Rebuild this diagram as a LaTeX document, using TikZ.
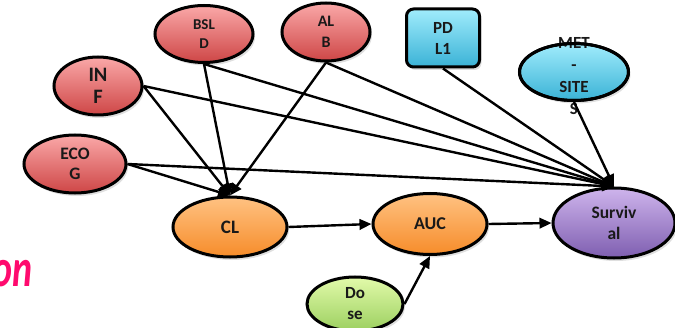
\documentclass[tikz,border=0pt]{standalone}
\usepackage{fontspec}
\setmainfont{Carlito}
\usetikzlibrary{shapes.geometric,shadows,arrows.meta}

\definecolor{redT}{RGB}{250,168,168}
\definecolor{redB}{RGB}{206,70,70}
\definecolor{blueT}{RGB}{160,236,252}
\definecolor{blueB}{RGB}{58,178,214}
\definecolor{orangeT}{RGB}{255,194,130}
\definecolor{orangeB}{RGB}{246,140,42}
\definecolor{purpleT}{RGB}{206,180,236}
\definecolor{purpleB}{RGB}{126,94,176}
\definecolor{greenT}{RGB}{226,250,170}
\definecolor{greenB}{RGB}{156,208,96}
\definecolor{hotpink}{RGB}{255,10,110}
\definecolor{ink}{RGB}{25,25,25}

\begin{document}
\begin{tikzpicture}[x=1pt,y=1pt,
  blob/.style={ellipse, draw=black, line width=3pt, inner sep=0pt, align=center,
    text=ink, drop shadow={opacity=0.25, shadow xshift=2pt, shadow yshift=-3pt}},
  boxnode/.style={rectangle, rounded corners=7pt, draw=black, line width=3pt,
    inner sep=0pt, align=center, text=ink,
    drop shadow={opacity=0.25, shadow xshift=2pt, shadow yshift=-3pt}},
  redfill/.style={top color=redT, bottom color=redB},
  bluefill/.style={top color=blueT, bottom color=blueB},
  orangefill/.style={top color=orangeT, bottom color=orangeB},
  purplefill/.style={top color=purpleT, bottom color=purpleB},
  greenfill/.style={top color=greenT, bottom color=greenB},
  fs/.style 2 args={font=\fontsize{#1}{#2}\selectfont\bfseries},
  link/.style={line width=2.4pt, draw=black, -{Triangle[length=12pt,width=10.5pt]}}
]
\useasboundingbox (0,0) rectangle (675,327);

% covariate nodes
\node[blob, redfill, fs={15}{19}, minimum width=98pt, minimum height=57pt] (bsld) at (204,293) {BSL\\D};
\node[blob, redfill, fs={16}{21}, minimum width=88pt, minimum height=58pt] (alb) at (326,295) {AL\\B};
\node[blob, redfill, fs={20.5}{22}, minimum width=88pt, minimum height=58pt] (inf) at (98,241) {IN\\F};
\node[blob, redfill, fs={17.5}{20}, minimum width=102pt, minimum height=58pt] (ecog) at (75,163) {ECO\\G};
\node[boxnode, bluefill, fs={17}{21}, minimum width=73pt, minimum height=58pt] (pdl1) at (443,289) {PD\\L1};
\node[blob, bluefill, minimum width=109pt, minimum height=57pt] (met) at (574,255) {};
\node[fs={17}{22}, align=center, text=ink, inner sep=0pt] (met-label) at (574,251) {MET\\-\\SITE\\S};
\node[ellipse, draw=black, line width=3pt, inner sep=0pt, minimum width=109pt, minimum height=57pt] (met-rim) at (met) {};

% pharmacokinetic chain and outcome
\node[blob, orangefill, fs={19}{22}, minimum width=114pt, minimum height=60pt] (cl) at (230,100) {CL};
\node[blob, orangefill, fs={18}{22}, minimum width=114pt, minimum height=61pt] (auc) at (430,103) {AUC};
\node[blob, purplefill, fs={17.5}{21}, minimum width=122pt, minimum height=70pt] (surv) at (614,104) {Surviv\\al};
\node[blob, greenfill, fs={17}{21}, minimum width=96pt, minimum height=54pt] (dose) at (355,23) {Do\\se};

% partially visible heading
\node[anchor=base east, inner sep=0pt, text=hotpink,
  font=\fontsize{38}{38}\selectfont\bfseries\itshape] (heading) at (33,41) {\scalebox{1}[1.4]{on}};

% covariate effects on clearance
\draw[link] (inf.east) -- (cl.north);
\draw[link] (bsld.south) -- (cl.north);
\draw[link] (alb.south) -- (cl.north);
\draw[link] (ecog.east) -- (cl.north);

% covariate effects on survival
\draw[link] (inf.east) -- (surv.north);
\draw[link] (bsld.south) -- (surv.north);
\draw[link] (alb.south) -- (surv.north);
\draw[link] (ecog.east) -- (surv.north);
\draw[link] (pdl1.south) -- (surv.north);
\draw[link] (met-rim.south) -- (surv.north);

% exposure chain
\draw[link] (cl.east) -- (auc.west);
\draw[link] (auc.east) -- (surv.west);
\draw[link] (dose.east) -- (auc.south);
\end{tikzpicture}
\end{document}
